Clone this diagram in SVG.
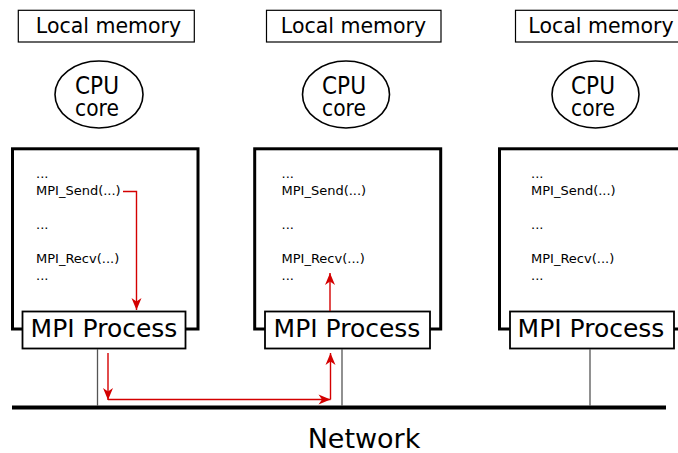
<svg xmlns="http://www.w3.org/2000/svg" width="678" height="453" viewBox="0 0 678 453">
<defs>
<style>
text{font-family:"DejaVu Sans",sans-serif;fill:#000}
.mem{fill:#fff;stroke:#000;stroke-width:1.2}
.mt{font-size:20.5px;text-anchor:middle}
.cpu{fill:#fff;stroke:#000;stroke-width:1.6}
.ct{font-family:"DejaVu Sans Condensed","DejaVu Sans",sans-serif;text-anchor:middle}
.frame{fill:#fff;stroke:#000;stroke-width:3}
.mpi{fill:#fff;stroke:#000;stroke-width:1.8}
.mpt{font-size:25px;text-anchor:middle}
.code{font-size:13px}
.tap{stroke:#555;stroke-width:1.3;fill:none}
.red{stroke:#d40000;stroke-width:1.4;fill:none;marker-end:url(#ah)}
</style>
<marker id="ah" markerUnits="userSpaceOnUse" markerWidth="14" markerHeight="12" viewBox="-13 -6 14 12" refX="0" refY="0" orient="auto">
<path d="M0,0 L-12,-5 L-8.5,0 L-12,5 Z" fill="#d40000"/>
</marker>
</defs>

<g id="node1">
<rect class="mem" x="18.3" y="10.3" width="176" height="31.7"/>
<text class="mt" x="108.5" y="33">Local memory</text>
<ellipse class="cpu" cx="99" cy="94.5" rx="44" ry="33.5"/>
<text class="ct" x="97" y="94" font-size="24">CPU</text>
<text class="ct" x="97" y="115.5" font-size="22.5">core</text>
<rect class="frame" x="12.5" y="148.8" width="185.5" height="180.2"/>
<text class="code" x="36" y="177.5">...</text>
<text class="code" x="36" y="195">MPI_Send(...)</text>
<text class="code" x="36" y="229">...</text>
<text class="code" x="36" y="262.7">MPI_Recv(...)</text>
<text class="code" x="36" y="280">...</text>
<rect class="mpi" x="22.5" y="311.5" width="163" height="37"/>
<text class="mpt" x="104" y="337">MPI Process</text>
</g>

<g id="node2">
<rect class="mem" x="266.5" y="10.3" width="174.5" height="31.7"/>
<text class="mt" x="353.5" y="33">Local memory</text>
<ellipse class="cpu" cx="346" cy="94.5" rx="43.5" ry="33.5"/>
<text class="ct" x="344" y="94" font-size="24">CPU</text>
<text class="ct" x="344" y="115.5" font-size="22.5">core</text>
<rect class="frame" x="254.7" y="148.8" width="186" height="180.2"/>
<text class="code" x="281.5" y="177.5">...</text>
<text class="code" x="281.5" y="195">MPI_Send(...)</text>
<text class="code" x="281.5" y="229">...</text>
<text class="code" x="281.5" y="262.7">MPI_Recv(...)</text>
<text class="code" x="281.5" y="280">...</text>
<rect class="mpi" x="265" y="311.5" width="165" height="37"/>
<text class="mpt" x="347" y="337">MPI Process</text>
</g>

<g id="node3">
<rect class="mem" x="515.5" y="10.3" width="170" height="31.7"/>
<text class="mt" x="601" y="33">Local memory</text>
<ellipse class="cpu" cx="595.5" cy="94.5" rx="43.5" ry="33.5"/>
<text class="ct" x="593" y="94" font-size="24">CPU</text>
<text class="ct" x="593" y="115.5" font-size="22.5">core</text>
<rect class="frame" x="499.5" y="148.8" width="200" height="180.2"/>
<text class="code" x="531" y="177.5">...</text>
<text class="code" x="531" y="195">MPI_Send(...)</text>
<text class="code" x="531" y="229">...</text>
<text class="code" x="531" y="262.7">MPI_Recv(...)</text>
<text class="code" x="531" y="280">...</text>
<rect class="mpi" x="510" y="311.5" width="164" height="37"/>
<text class="mpt" x="591" y="337">MPI Process</text>
</g>

<g id="network">
<line x1="12" y1="407.5" x2="666" y2="407.5" stroke="#000" stroke-width="4"/>
<text x="364" y="447.5" font-size="27" text-anchor="middle">Network</text>
</g>

<g id="connectors">
<line class="tap" x1="97.5" y1="349" x2="97.5" y2="406"/>
<line class="tap" x1="342" y1="349" x2="342" y2="406"/>
<line class="tap" x1="590" y1="349" x2="590" y2="406"/>
<path class="red" d="M123,191.5 H136.5 V310"/>
<path class="red" d="M330,311 V273"/>
<path class="red" d="M108,353 V400"/>
<path class="red" d="M108,399.5 H330.5"/>
<path class="red" d="M330.5,399.5 V353"/>
</g>
</svg>
